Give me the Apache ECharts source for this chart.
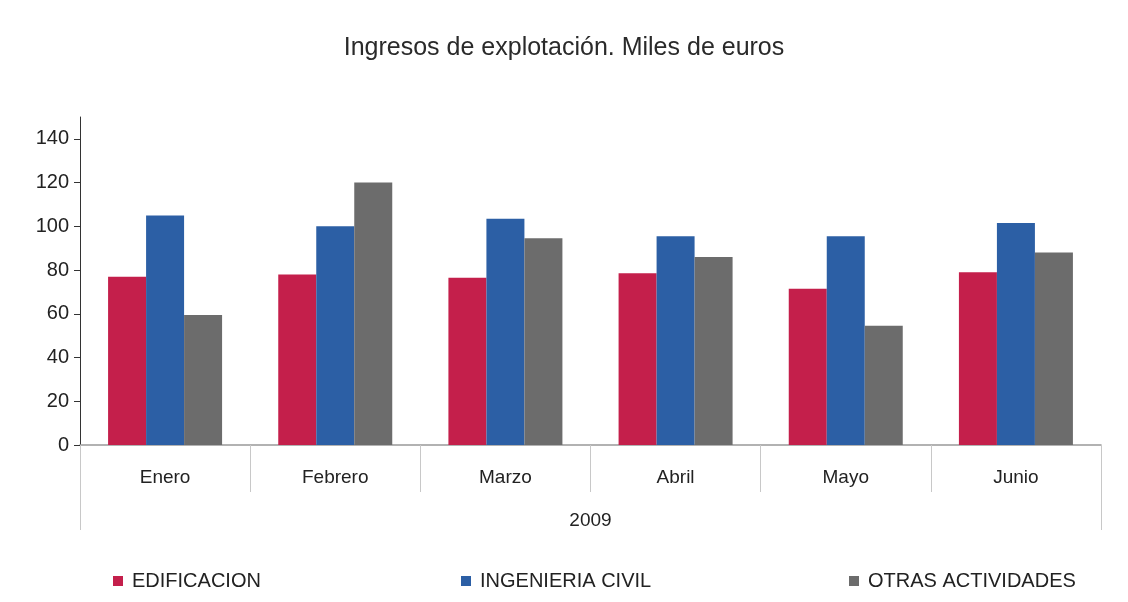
<!DOCTYPE html>
<html>
<head>
<meta charset="utf-8">
<script src="https://cdn.jsdelivr.net/npm/echarts@6/dist/echarts.min.js"></script>
<style>
  html, body { margin: 0; padding: 0; background: #fff; }
  #main { width: 1128px; height: 602px; }
</style>
</head>
<body>
<div id="main"></div>
<script>
// months of 2009
var meses = ['Enero', 'Febrero', 'Marzo', 'Abril', 'Mayo', 'Junio'];
var anio = ['2009'];
var yTicks = [0, 20, 40, 60, 80, 100, 120, 140];

var edificacion = [77, 78, 76.5, 78.5, 71.5, 79];
var ingenieria = [105, 100, 103.5, 95.5, 95.5, 101.5];
var otras = [59.5, 120, 94.5, 86, 54.5, 88];

var font = 'Liberation Sans, Arial, sans-serif';

function legendAt(name, left) {
  return {
    data: [name],
    left: left,
    top: 566,
    icon: 'rect',
    itemWidth: 10,
    itemHeight: 10,
    itemGap: 8,
    selectedMode: false,
    textStyle: { fontFamily: font, fontSize: 20, color: '#222', padding: [0, 0, 0, 4] }
  };
}

var myChart = echarts.init(document.getElementById('main'));
var option = {
  backgroundColor: '#fff',
  animation: false,
  title: {
    text: 'Ingresos de explotación. Miles de euros',
    left: 'center',
    top: 31,
    textStyle: { fontFamily: font, fontSize: 25, fontWeight: 'normal', color: '#2a2a2a' }
  },
  legend: [
    legendAt('EDIFICACION', 108),
    legendAt('INGENIERIA CIVIL', 456),
    legendAt('OTRAS ACTIVIDADES', 844)
  ],
  grid: { left: 80, right: 27, top: 117, bottom: 157 },
  xAxis: [
    {
      type: 'category',
      data: meses,
      position: 'bottom',
      axisLine: { show: true, lineStyle: { color: '#999', width: 1.5 } },
      axisTick: { show: true, interval: 0, length: 47, lineStyle: { color: '#c8c8c8', width: 1 } },
      axisLabel: { margin: 23, fontFamily: font, fontSize: 19, color: '#222' }
    },
    {
      type: 'category',
      data: anio,
      position: 'bottom',
      axisLine: { show: false },
      axisTick: { show: true, interval: 0, length: 85, lineStyle: { color: '#c8c8c8', width: 1 } },
      axisLabel: { margin: 66, fontFamily: font, fontSize: 19, color: '#222' }
    }
  ],
  yAxis: {
    type: 'value',
    min: 0,
    max: 150,
    interval: 10,
    axisLine: { show: true, lineStyle: { color: '#333' } },
    axisTick: { show: true, length: 6, lineStyle: { color: '#333' }, customValues: yTicks },
    axisLabel: { margin: 11, fontFamily: font, fontSize: 20, color: '#222', customValues: yTicks },
    splitLine: { show: false }
  },
  series: [
    { name: 'EDIFICACION', type: 'bar', data: edificacion, barWidth: 38, barGap: '0%', itemStyle: { color: '#c41f4b' } },
    { name: 'INGENIERIA CIVIL', type: 'bar', data: ingenieria, barWidth: 38, barGap: '0%', itemStyle: { color: '#2c5fa5' } },
    { name: 'OTRAS ACTIVIDADES', type: 'bar', data: otras, barWidth: 38, barGap: '0%', itemStyle: { color: '#6c6c6c' } }
  ]
};
myChart.setOption(option);
</script>
</body>
</html>
